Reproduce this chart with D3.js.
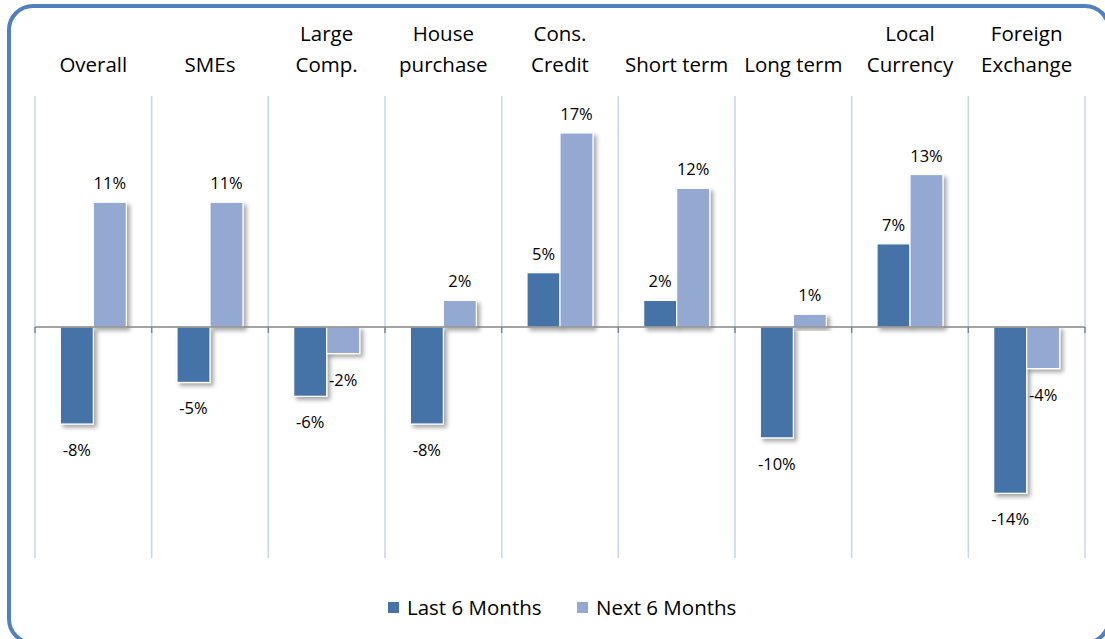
<!DOCTYPE html>
<html>
<head>
<meta charset="utf-8">
<script src="https://cdn.jsdelivr.net/npm/d3@7"></script>
<style>
  body { margin: 0; background: #fff; }
  svg { display: block; font-family: "Open Sans", Lato, sans-serif; }
</style>
</head>
<body>
<div id="chart"></div>
<script>
// categories (label lines) and the two series
const categories = ['Overall', 'SMEs', 'Large Comp.', 'House purchase', 'Cons. Credit',
  'Short term', 'Long term', 'Local Currency', 'Foreign Exchange'];
const categoryLines = [['Overall'], ['SMEs'], ['Large', 'Comp.'], ['House', 'purchase'],
  ['Cons.', 'Credit'], ['Short term'], ['Long term'], ['Local', 'Currency'], ['Foreign', 'Exchange']];
const seriesNames = ['Last 6 Months', 'Next 6 Months'];
const lastSix = [-8.4, -4.8, -6.0, -8.4, 4.7, 2.3, -9.6, 7.2, -14.4];
const nextSix = [10.8, 10.8, -2.3, 2.3, 16.8, 12.0, 1.1, 13.2, -3.6];
const colors = ['#4572a7', '#93a9d2'];

const width = 1105;
const height = 639;

const svg = d3.select('#chart').append('svg')
  .attr('width', width)
  .attr('height', height);

// drop shadow like the office chart
const defs = svg.append('defs');
defs.append('filter')
  .attr('id', 'shadow')
  .attr('x', '-20%').attr('y', '-20%').attr('width', '150%').attr('height', '150%')
  .append('feDropShadow')
  .attr('dx', 3).attr('dy', 3).attr('stdDeviation', 2)
  .attr('flood-color', '#000').attr('flood-opacity', 0.35);

// rounded frame (runs off the right and bottom edges)
svg.append('rect')
  .attr('x', 9).attr('y', 6)
  .attr('width', 1100).attr('height', 637)
  .attr('rx', 24)
  .attr('fill', 'none')
  .attr('stroke', '#4f81bd')
  .attr('stroke-width', 4);

const x0 = d3.scaleBand().domain(categories).range([35, 1085]).padding(0);
const groupWidth = 66;
const x1 = d3.scaleBand().domain(seriesNames)
  .range([(x0.bandwidth() - groupWidth) / 2, (x0.bandwidth() + groupWidth) / 2]);
const y = d3.scaleLinear().domain([-20, 20]).range([558, 96]);

// vertical gridlines at category boundaries
const bounds = categories.map(c => x0(c)).concat([x0.range()[1]]);
svg.append('g').attr('class', 'gridlines')
  .selectAll('line')
  .data(bounds)
  .join('line')
  .attr('x1', d => d).attr('x2', d => d)
  .attr('y1', y(20)).attr('y2', y(-20))
  .attr('stroke', '#c6d4ee')
  .attr('stroke-width', 1.5);

// bars
const rows = categories.map((c, i) => ({ cat: c, values: [lastSix[i], nextSix[i]] }));
const groups = svg.append('g').attr('class', 'bars')
  .selectAll('g')
  .data(rows)
  .join('g')
  .attr('transform', d => `translate(${x0(d.cat)},0)`);

groups.selectAll('rect')
  .data(d => d.values.map((v, k) => ({ name: seriesNames[k], v, k })))
  .join('rect')
  .attr('x', d => x1(d.name))
  .attr('y', d => y(Math.max(0, d.v)))
  .attr('width', x1.bandwidth())
  .attr('height', d => Math.abs(y(d.v) - y(0)))
  .attr('fill', d => colors[d.k])
  .attr('stroke', '#fff')
  .attr('stroke-width', 1.2)
  .attr('filter', 'url(#shadow)');

// zero axis with small ticks
svg.append('line')
  .attr('x1', 35).attr('x2', 1085)
  .attr('y1', y(0)).attr('y2', y(0))
  .attr('stroke', '#868686').attr('stroke-width', 1.5);
svg.append('g').selectAll('line')
  .data(bounds)
  .join('line')
  .attr('x1', d => d).attr('x2', d => d)
  .attr('y1', y(0)).attr('y2', y(0) + 6)
  .attr('stroke', '#868686').attr('stroke-width', 1.5);

// value labels
groups.selectAll('text')
  .data(d => d.values.map((v, k) => ({ name: seriesNames[k], v, k })))
  .join('text')
  .attr('x', d => x1(d.name) + x1.bandwidth() / 2)
  .attr('y', d => d.v >= 0 ? y(d.v) - 13 : y(d.v) + 32)
  .attr('text-anchor', 'middle')
  .attr('font-size', 16.5)
  .attr('fill', '#000')
  .text(d => Math.round(d.v) + '%');

// category labels on top
svg.append('g').selectAll('text')
  .data(categories)
  .join('text')
  .attr('x', d => x0(d) + x0.bandwidth() / 2)
  .attr('text-anchor', 'middle')
  .attr('font-size', 20.5)
  .attr('fill', '#000')
  .each(function (d, i) {
    const lines = categoryLines[i];
    const t = d3.select(this);
    lines.forEach((ln, j) => {
      t.append('tspan')
        .attr('x', x0(d) + x0.bandwidth() / 2)
        .attr('y', 72 - (lines.length - 1 - j) * 31)
        .text(ln);
    });
  });

// legend
const legend = svg.append('g').attr('class', 'legend');
const legendX = [388, 577];
seriesNames.forEach((name, k) => {
  legend.append('rect')
    .attr('x', legendX[k]).attr('y', 602)
    .attr('width', 11).attr('height', 11)
    .attr('fill', colors[k]);
  legend.append('text')
    .attr('x', legendX[k] + 19).attr('y', 615)
    .attr('font-size', 20.5)
    .attr('fill', '#000')
    .text(name);
});
</script>
</body>
</html>
